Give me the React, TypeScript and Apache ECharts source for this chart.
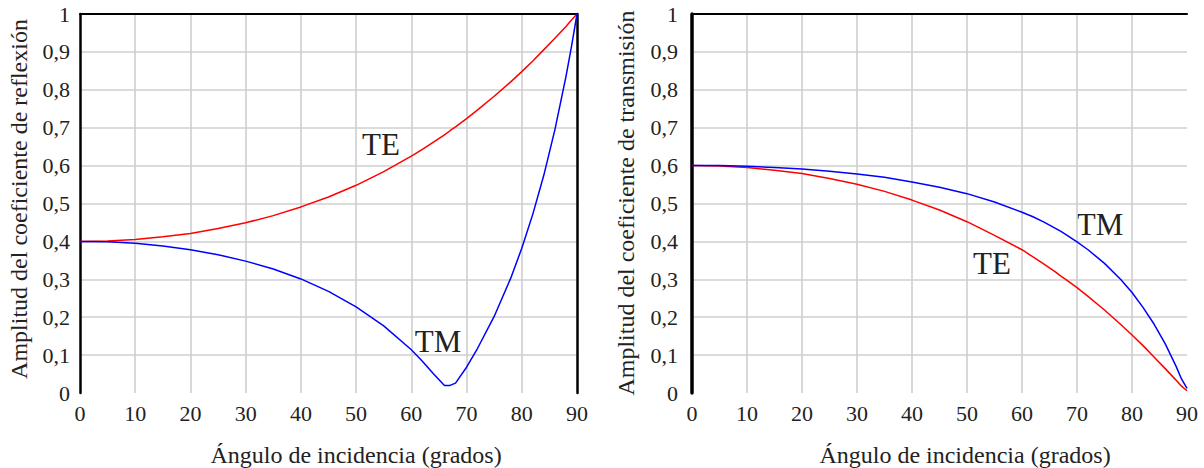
import React, { useEffect, useRef } from "react";
import * as echarts from "echarts";

// Angle of incidence (degrees)
const angles = [0, 5, 10, 15, 20, 25, 30, 35, 40, 45, 50, 55, 60, 62, 64, 66, 67, 68, 70, 72, 75, 78, 80, 82, 84, 86, 88, 89, 90];

// Reflection coefficient amplitude (left panel)
const reflTE = [0.4, 0.401, 0.405, 0.412, 0.421, 0.434, 0.449, 0.468, 0.491, 0.517, 0.548, 0.584, 0.625, 0.643, 0.662, 0.681, 0.692, 0.702, 0.724, 0.747, 0.783, 0.821, 0.848, 0.876, 0.906, 0.936, 0.967, 0.984, 1.0];
const reflTM = [0.4, 0.399, 0.395, 0.388, 0.378, 0.365, 0.348, 0.327, 0.301, 0.268, 0.227, 0.177, 0.114, 0.084, 0.051, 0.02, 0.02, 0.026, 0.068, 0.118, 0.202, 0.303, 0.382, 0.472, 0.575, 0.695, 0.835, 0.914, 1.0];

// Transmission coefficient amplitude (right panel)
const transTE = [0.6, 0.599, 0.595, 0.588, 0.579, 0.566, 0.551, 0.532, 0.509, 0.483, 0.452, 0.416, 0.378, 0.359, 0.34, 0.32, 0.309, 0.299, 0.278, 0.255, 0.219, 0.18, 0.153, 0.125, 0.095, 0.065, 0.034, 0.018, 0.006];
const transTM = [0.6, 0.6, 0.598, 0.595, 0.591, 0.585, 0.578, 0.569, 0.557, 0.543, 0.526, 0.504, 0.477, 0.465, 0.451, 0.435, 0.427, 0.418, 0.399, 0.378, 0.342, 0.299, 0.265, 0.226, 0.182, 0.131, 0.071, 0.037, 0.012];

const xTitle = "Ángulo de incidencia (grados)";
const yTitleLeft = "Amplitud del coeficiente de reflexión";
const yTitleRight = "Amplitud del coeficiente de transmisión";

const FONT = "Liberation Serif, Times New Roman, DejaVu Serif, serif";
const TEXT = "#222222";
const GRID = "#cfcfcf";

function pairs(ys: number[]) {
  return angles.map((a, k) => [a, ys[k]]);
}

export default function App() {
  const ref = useRef<HTMLDivElement>(null);

  useEffect(() => {
    const chart = echarts.init(ref.current as HTMLDivElement, null, { renderer: "svg" });

    const bottomX = (gi: number) => ({
      type: "value",
      gridIndex: gi,
      position: "bottom",
      min: 0,
      max: 90,
      interval: 10,
      axisLine: { show: false },
      axisTick: { show: false },
      axisLabel: { fontFamily: FONT, fontSize: 22, color: TEXT, margin: 9 },
      splitLine: { show: true, showMinLine: false, showMaxLine: false, lineStyle: { color: GRID, width: 1.6 } },
    });
    const topX = (gi: number) => ({
      type: "value",
      gridIndex: gi,
      position: "top",
      min: 0,
      max: 90,
      interval: 10,
      axisLine: { show: true, onZero: false, lineStyle: { color: "#000", width: 2 } },
      axisTick: { show: false },
      axisLabel: { show: false },
      splitLine: { show: false },
    });
    const leftY = (gi: number, margin: number, w: number) => ({
      type: "value",
      gridIndex: gi,
      position: "left",
      min: 0,
      max: 1,
      interval: 0.1,
      axisLine: { show: true, onZero: false, lineStyle: { color: "#000", width: w } },
      axisTick: { show: false },
      axisLabel: {
        fontFamily: FONT,
        fontSize: 22,
        color: TEXT,
        margin,
        formatter: (v: number) => String(Math.round(v * 10) / 10).replace(".", ","),
      },
      splitLine: { show: true, showMinLine: false, showMaxLine: false, lineStyle: { color: GRID, width: 1.6 } },
    });

    const txt = (x: number, y: number, text: string, size: number, rotation = 0) => ({
      type: "text",
      x,
      y,
      rotation,
      style: { text, fontFamily: FONT, fontSize: size, fill: TEXT, align: "center", verticalAlign: "middle" },
    });

    const option: any = {
      animation: false,
      backgroundColor: "#ffffff",
      textStyle: { fontFamily: FONT },
      grid: [
        { left: 80, top: 14, width: 497, height: 379 },
        { left: 692, top: 14, width: 495, height: 379 },
      ],
      xAxis: [bottomX(0), topX(0), bottomX(1), topX(1)],
      yAxis: [
        leftY(0, 10, 2.5),
        {
          type: "value",
          gridIndex: 0,
          position: "right",
          min: 0,
          max: 1,
          interval: 0.1,
          axisLine: { show: true, onZero: false, lineStyle: { color: "#000", width: 2.5 } },
          axisTick: { show: false },
          axisLabel: { show: false },
          splitLine: { show: false },
        },
        leftY(1, 14, 3.5),
      ],
      series: [
        { name: "TE", type: "line", xAxisIndex: 0, yAxisIndex: 0, data: pairs(reflTE), showSymbol: false, symbol: "none", lineStyle: { color: "#ff0000", width: 1.5 } },
        { name: "TM", type: "line", xAxisIndex: 0, yAxisIndex: 0, data: pairs(reflTM), showSymbol: false, symbol: "none", lineStyle: { color: "#0000ff", width: 1.5 } },
        { name: "TE", type: "line", xAxisIndex: 2, yAxisIndex: 2, data: pairs(transTE), showSymbol: false, symbol: "none", lineStyle: { color: "#ff0000", width: 1.5 } },
        { name: "TM", type: "line", xAxisIndex: 2, yAxisIndex: 2, data: pairs(transTM), showSymbol: false, symbol: "none", lineStyle: { color: "#0000ff", width: 1.5 } },
      ],
      graphic: [
        txt(356, 455, xTitle, 24),
        txt(965, 455, xTitle, 24),
        txt(19, 199, yTitleLeft, 24, Math.PI / 2),
        txt(626, 203, yTitleRight, 24, Math.PI / 2),
        txt(381, 144, "TE", 31),
        txt(438, 341, "TM", 31),
        txt(1100, 224, "TM", 31),
        txt(992, 263, "TE", 31),
      ],
    };

    chart.setOption(option);
    return () => chart.dispose();
  }, []);

  return <div ref={ref} style={{ position: "absolute", left: 0, top: 0, width: 1204, height: 468 }} />;
}
